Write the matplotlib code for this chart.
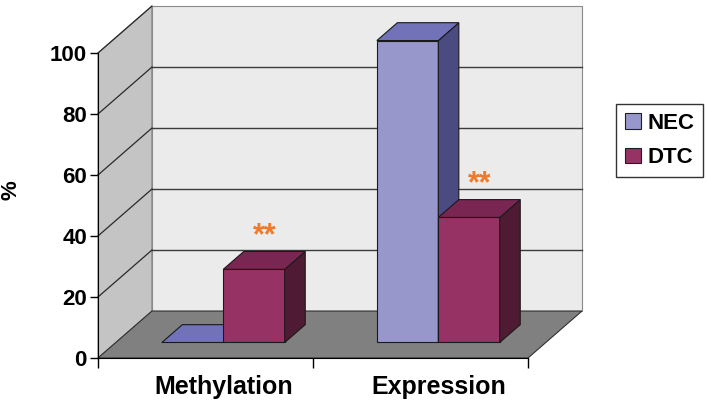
import matplotlib.pyplot as plt
from matplotlib.patches import Polygon, Patch

plt.rcParams['font.family'] = ['Liberation Sans', 'DejaVu Sans']
plt.rcParams['font.weight'] = 'bold'

# data
categories = ['Methylation', 'Expression']
series = ['NEC', 'DTC']
nec_values = [0, 99]
dtc_values = [24, 41]
yticks = [0, 20, 40, 60, 80, 100]

# colours: front, top, side
colours = {
    'NEC': ('#9797CB', '#7272B8', '#4B4B82'),
    'DTC': ('#963264', '#7A2652', '#4F1A33'),
}

# pseudo 3d geometry (category units / percent units)
DX = 0.251     # full depth, x shift
DY = 15.4      # full depth, y shift
F0, F1 = 0.33, 0.71   # bar front / back depth fraction
BAR_W = 1 / 3.5
GAP = 0.75 * BAR_W


def proj(x, y, f):
    return (x + f * DX, y + f * DY)


fig = plt.figure(figsize=(7.07, 4.0), dpi=100)
ax = fig.add_axes([98 / 707, 42 / 400, 430 / 707, 305 / 400])
ax.set_xlim(0, 2)
ax.set_ylim(0, 100)
ax.patch.set_visible(False)

# walls and floor
side = Polygon([proj(0, 0, 0), proj(0, 0, 1), proj(0, 100, 1), proj(0, 100, 0)],
               closed=True, fc='#C4C4C4', ec='#7A7A7A', lw=0.8, clip_on=False, zorder=1)
back = Polygon([proj(0, 0, 1), proj(2, 0, 1), proj(2, 100, 1), proj(0, 100, 1)],
               closed=True, fc='#EBEBEB', ec='#8A8A8A', lw=0.8, clip_on=False, zorder=1)
floor = Polygon([proj(0, 0, 0), proj(2, 0, 0), proj(2, 0, 1), proj(0, 0, 1)],
                closed=True, fc='#808080', ec='#303030', lw=0.8, clip_on=False, zorder=1)
for p in (side, back, floor):
    ax.add_patch(p)

for v in yticks[1:-1]:
    x0, y0 = proj(0, v, 1)
    x1, y1 = proj(2, v, 1)
    ax.plot([x0, x1], [y0, y1], color='#3C3C3C', lw=1.0, clip_on=False, zorder=2)
for v in yticks[1:]:
    xa, ya = proj(0, v, 0)
    xb, yb = proj(0, v, 1)
    ax.plot([xa, xb], [ya, yb], color='#2A2A2A', lw=0.9, clip_on=False, zorder=2)

# bars
for i, cat in enumerate(categories):
    for j, (name, vals) in enumerate(zip(series, [nec_values, dtc_values])):
        front, top, sidec = colours[name]
        xl = i + GAP + j * BAR_W
        xr = xl + BAR_W
        base = F0 * DY
        h = vals[i]
        fl = (xl + F0 * DX, base)
        fr = (xr + F0 * DX, base)
        tl = (xl + F0 * DX, base + h)
        tr = (xr + F0 * DX, base + h)
        d = ((F1 - F0) * DX, (F1 - F0) * DY)
        btl = (tl[0] + d[0], tl[1] + d[1])
        btr = (tr[0] + d[0], tr[1] + d[1])
        bbr = (fr[0] + d[0], fr[1] + d[1])
        kw = dict(closed=True, ec='#1A1A1A', lw=0.8, clip_on=False, zorder=3)
        if h > 0:
            ax.add_patch(Polygon([fl, fr, tr, tl], fc=front, **kw))
            ax.add_patch(Polygon([fr, bbr, btr, tr], fc=sidec, **kw))
        ax.add_patch(Polygon([tl, tr, btr, btl], fc=top, **kw))
        if name == 'DTC':
            # significance marks above the DTC bars
            xs = (xl + xr) / 2 + (F0 + F1) / 2 * DX
            ax.text(xs, base + h + (F1 - F0) * DY, '**', color='#F07A2A',
                    fontsize=22, fontweight='bold', ha='center', va='bottom',
                    zorder=4)

# axes cosmetics
for s in ('top', 'right'):
    ax.spines[s].set_visible(False)
ax.spines['left'].set_zorder(5)
ax.spines['bottom'].set_zorder(5)
ax.set_yticks(yticks)
ax.set_yticklabels([str(v) for v in yticks])
ax.tick_params(axis='y', direction='out', length=6, width=1, pad=2, labelsize=16)
ax.set_xticks([0, 1, 2])
ax.set_xticklabels(['', '', ''])
# category labels sit under the bars' front face
ax.set_xticks([i + 0.5 + F0 * DX for i in range(len(categories))], categories, minor=True)
ax.tick_params(axis='x', which='major', direction='out', length=7, width=1)
ax.tick_params(axis='x', which='minor', length=0, pad=12, labelsize=18)
ax.set_ylabel('%', fontsize=16, fontweight='bold')
ax.yaxis.set_label_coords(-0.177, 0.551)

handles = [Patch(fc=colours[n][0], ec='#202020', lw=0.8) for n in series]
leg = fig.legend(handles, series, loc='center', bbox_to_anchor=(0.933, 0.649),
                 frameon=True, fancybox=False, edgecolor='black',
                 prop={'weight': 'bold', 'size': 16},
                 handlelength=0.7, handleheight=0.7, handletextpad=0.3,
                 labelspacing=0.6, borderpad=0.4)
leg.get_frame().set_linewidth(1.0)

fig.savefig('out.png', dpi=100)
